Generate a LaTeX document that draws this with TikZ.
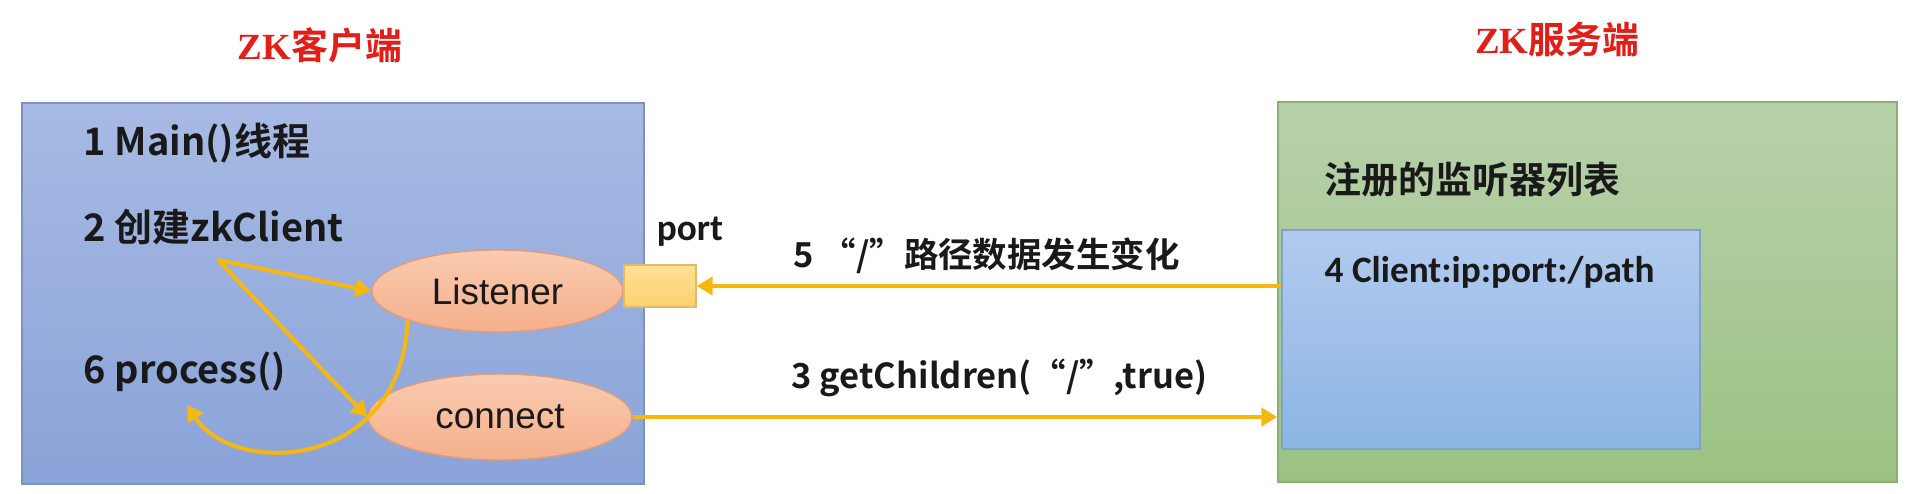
\documentclass[tikz,border=0pt]{standalone}
\usepackage{fontspec}
\setmainfont{Noto Sans CJK SC}[BoldFont={Noto Sans CJK SC Bold}]
\newfontfamily\calib{Carlito}
\newfontfamily\latinsans{Liberation Sans}
\newfontfamily\latinserif{Liberation Serif}
\usetikzlibrary{arrows.meta,shapes.geometric}

\definecolor{arrowgold}{RGB}{246,184,14}
\definecolor{titlered}{RGB}{226,30,24}
\definecolor{clienttop}{RGB}{168,186,228}
\definecolor{clientbot}{RGB}{138,163,216}
\definecolor{servertop}{RGB}{184,208,171}
\definecolor{serverbot}{RGB}{155,194,131}
\definecolor{listtop}{RGB}{178,202,238}
\definecolor{listbot}{RGB}{140,181,228}
\definecolor{ovaltop}{RGB}{250,202,176}
\definecolor{ovalbot}{RGB}{245,176,140}
\definecolor{porttop}{RGB}{255,224,150}
\definecolor{portbot}{RGB}{253,208,110}

\begin{document}
\begin{tikzpicture}[x=0.1mm, y=-0.1mm,
	every node/.style={font=\bfseries\fontsize{10.5}{12}\selectfont, text=black!90},
	>={Triangle[length=1.6mm,width=1.8mm]},
	goldline/.style={draw=arrowgold, line width=0.4mm},
	steptext/.style={anchor=west, inner sep=0pt},
	oval/.style={ellipse, draw=ovalbot!90!black, top color=ovaltop, bottom color=ovalbot, inner sep=0pt, font=\latinsans\fontsize{10.5}{12}\selectfont}]
	\useasboundingbox (0,0) rectangle (1915,494);
	% the two sides
	\node[titlered] (clitit) at (320,45) {{\latinserif ZK}客户端};
	\node[titlered] (srvtit) at (1557,40) {{\latinserif ZK}服务端};
	\node[draw=clientbot!90!black, top color=clienttop, bottom color=clientbot, minimum width=62.2mm, minimum height=38.1mm] (cli) at (333,293.5) {};
	\node[draw=serverbot!90!black, top color=servertop, bottom color=serverbot, minimum width=61.9mm, minimum height=38mm] (srv) at (1587.5,292) {};
	\node[draw=listbot!90!black, top color=listtop, bottom color=listbot, minimum width=41.8mm, minimum height=21.9mm] (lst) at (1491,339.5) {};
	% client steps
	\begin{scope}[every node/.append style={font=\bfseries\fontsize{10.8}{12}\selectfont}]
		\node[steptext] (main) at (83,143) {1 Main()线程};
		\node[steptext] (make) at (83,227) {2 创建zkClient};
		\node[steptext] (proc) at (83,372) {6 process()};
	\end{scope}
	\node[oval, minimum width=25.1mm, minimum height=8.2mm] (lis) at (497.5,291) {Listener};
	\node[oval, minimum width=26.4mm, minimum height=8.6mm] (con) at (500,417) {connect};
	\node[draw=portbot!90!black, top color=porttop, bottom color=portbot, minimum width=7.2mm, minimum height=4.2mm, inner sep=0pt] (port) at (660,286) {};
	\node[font=\calib\bfseries\fontsize{10.6}{12}\selectfont] (portlbl) at (690,232) {port};
	% server side
	\node[steptext] (reg) at (1324,180) {注册的监听器列表};
	\node[steptext, font=\calib\bfseries\fontsize{10.6}{12}\selectfont] (watch) at (1324,272) {4 Client:ip:port:/path};
	% messages
	\node[steptext, font=\bfseries\fontsize{9.8}{12}\selectfont] (msg5) at (793,256) {5 “/”路径数据发生变化};
	\node[steptext, font=\bfseries\fontsize{9.8}{12}\selectfont] (msg3) at (791,378) {3 getChildren(“/”,true)};
	\coordinate (fork) at (218,260);
	\draw[goldline, ->] (fork) -- (lis.west);
	\draw[goldline, ->] (fork) -- (con.west);
	\draw[goldline, ->] (lis.198) .. controls (402,470) and (235,478) .. (187,405);
	\draw[goldline, ->] (lst.west |- port.east) -- (port.east);
	\draw[goldline, ->] (con.east) -- (con.east -| srv.west);
\end{tikzpicture}
\end{document}
